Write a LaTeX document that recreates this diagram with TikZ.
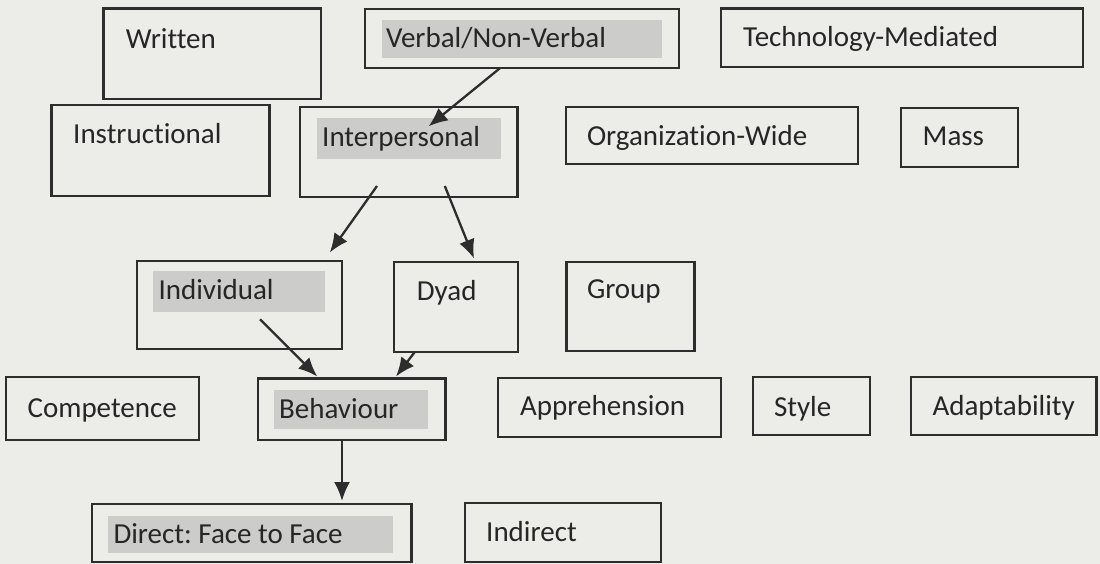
\documentclass[tikz,border=0pt]{standalone}
\usepackage{fontspec}
\setmainfont{Carlito}[Ligatures=NoCommon]
\usetikzlibrary{fit,arrows.meta}

\definecolor{paper}{RGB}{236,236,233}
\definecolor{ink}{RGB}{45,45,45}
\definecolor{txtcol}{RGB}{38,38,38}
\definecolor{shade}{RGB}{204,204,203}

\tikzset{
  box/.style={draw=ink, line width=2.3pt, inner sep=0pt, rectangle},
  hl/.style={fill=shade, draw=none, inner sep=0pt, rectangle},
  txt/.style={text=txtcol, inner sep=0pt, anchor=base west, font=\fontsize{29pt}{33pt}\selectfont},
  arr/.style={draw=ink, line width=2.3pt, -{Latex[length=19pt,width=16pt]}},
}

\begin{document}
\frenchspacing
\begin{tikzpicture}[x=1pt,y=-1pt]
  \useasboundingbox (0,0) rectangle (1100,564);
  \fill[paper] (0,0) rectangle (1100,564);

  % top row
  \node[box, fit={(103.5,8.5) (321,99)}] (written) {};
  \node[txt] (written-t) at (125.6,48.3) {Written};

  \node[box, fit={(364.8,9) (679,68.3)}] (verbal) {};
  \node[hl, fit={(382,20) (662,57.7)}] (verbal-hl) {};
  \node[txt] (verbal-t) at (385.8,48) {Verbal/Non-Verbal};

  \node[box, fit={(721,8.5) (1083,66.7)}] (tech) {};
  \node[txt] (tech-t) at (743,47) {Technology-Mediated};

  % second row
  \node[box, fit={(51.6,105) (269.4,195.7)}] (instr) {};
  \node[txt] (instr-t) at (73,144) {Instructional};

  \node[box, fit={(300,106.7) (517.4,197.3)}] (inter) {};
  \node[hl, fit={(317.4,118.3) (501,159.3)}] (inter-hl) {};
  \node[txt] (inter-t) at (322,146.7) {Interpersonal};

  \node[box, fit={(565.8,106.7) (858,164)}] (org) {};
  \node[txt] (org-t) at (586.8,145.7) {Organization-Wide};

  \node[box, fit={(900.8,107.7) (1018,166.7)}] (mass) {};
  \node[txt] (mass-t) at (922.5,145.7) {Mass};

  % third row
  \node[box, fit={(136.7,260.7) (341.7,349.3)}] (indiv) {};
  \node[hl, fit={(153.3,270.7) (325,312.3)}] (indiv-hl) {};
  \node[txt] (indiv-t) at (158.3,299.3) {Individual};

  \node[box, fit={(394,262.3) (518.3,351.7)}] (dyad) {};
  \node[txt] (dyad-t) at (416.7,300) {Dyad};

  \node[box, fit={(566.5,262) (694.5,351)}] (group) {};
  \node[txt] (group-t) at (586.8,298.7) {Group};

  % fourth row
  \node[box, fit={(6.3,377) (198.9,439.7)}] (comp) {};
  \node[txt] (comp-t) at (27.4,417) {Competence};

  \node[box, fit={(257.8,378.5) (445.5,440)}] (behav) {};
  \node[hl, fit={(273.6,390.3) (427.9,428.7)}] (behav-hl) {};
  \node[txt] (behav-t) at (278.9,418.7) {Behaviour};

  \node[box, fit={(498.3,378.3) (721,437.3)}] (appr) {};
  \node[txt] (appr-t) at (520,415.5) {Apprehension};

  \node[box, fit={(752.7,377) (869.9,435.3)}] (style) {};
  \node[txt] (style-t) at (773.8,416) {Style};

  \node[box, fit={(911.3,377) (1096.5,435.3)}] (adapt) {};
  \node[txt] (adapt-t) at (932.3,415.3) {Adaptability};

  % bottom row
  \node[box, fit={(91.7,504) (411.5,561.7)}] (direct) {};
  \node[hl, fit={(108.3,516) (393.3,552.7)}] (direct-hl) {};
  \node[txt] (direct-t) at (113.3,543.3) {Direct: Face to Face};

  \node[box, fit={(465,502.7) (660.7,561.7)}] (indirect) {};
  \node[txt] (indirect-t) at (486,541.7) {Indirect};

  % connector end points
  \coordinate (verbal-out) at (499.8,68.3);
  \coordinate (inter-in)   at (428.6,126.3);
  \coordinate (inter-outA) at (377,186);
  \coordinate (inter-outB) at (444.8,186);
  \coordinate (indiv-in)   at (329.8,252.5);
  \coordinate (dyad-in)    at (474,258.5);
  \coordinate (indiv-out)  at (260,319.3);
  \coordinate (dyad-out)   at (415,351.7);
  \coordinate (behav-inA)  at (317.3,376.5);
  \coordinate (behav-inB)  at (396,376.5);
  \coordinate (behav-out)  at (342,440);
  \coordinate (direct-in)  at (342,501);

  % connectors
  \draw[arr] (verbal-out) -- (inter-in);
  \draw[arr] (inter-outA) -- (indiv-in);
  \draw[arr] (inter-outB) -- (dyad-in);
  \draw[arr] (indiv-out) -- (behav-inA);
  \draw[arr] (dyad-out) -- (behav-inB);
  \draw[arr] (behav-out) -- (direct-in);
\end{tikzpicture}
\end{document}
